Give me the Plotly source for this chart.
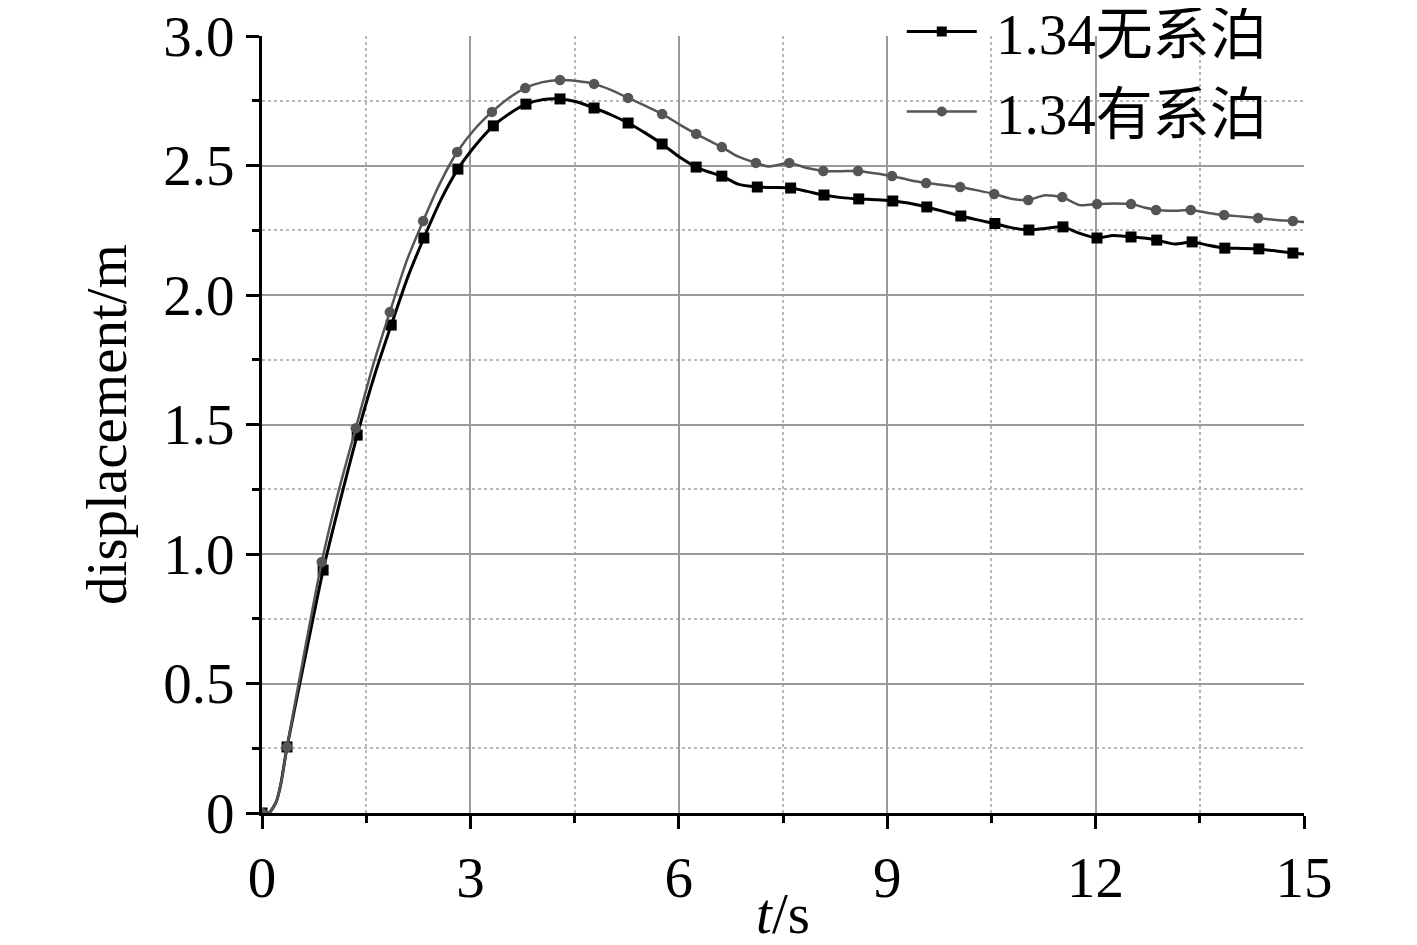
import plotly.graph_objects as go

# ---- data ----
# continuous curves
t_black = [0, 0.10, 0.20, 0.27, 0.36, 0.62, 0.88, 1.12, 1.37, 1.62, 1.86, 2.10, 2.33, 2.58, 2.82, 3.08,
           3.33, 3.56, 3.80, 4.05, 4.29, 4.54, 4.78, 5.03, 5.27, 5.52, 5.76, 6.00, 6.25, 6.42, 6.62, 6.85,
           7.13, 7.35, 7.61, 7.85, 8.09, 8.34, 8.59, 8.85, 9.08, 9.30, 9.57, 9.82, 10.06, 10.30, 10.55,
           10.75, 11.04, 11.30, 11.53, 11.75, 12.02, 12.25, 12.51, 12.70, 12.88, 13.14, 13.39, 13.62,
           13.86, 14.10, 14.35, 14.60, 14.84, 15.0]
v_black = [0, 0.0, 0.04, 0.11, 0.255, 0.60, 0.938, 1.20, 1.459, 1.69, 1.884, 2.07, 2.220, 2.37, 2.486, 2.58,
           2.653, 2.70, 2.737, 2.755, 2.757, 2.745, 2.722, 2.695, 2.664, 2.625, 2.583, 2.535, 2.494, 2.476,
           2.459, 2.428, 2.417, 2.415, 2.413, 2.400, 2.386, 2.376, 2.371, 2.368, 2.363, 2.355, 2.340, 2.322,
           2.305, 2.290, 2.276, 2.262, 2.251, 2.258, 2.263, 2.240, 2.220, 2.230, 2.224, 2.220, 2.212, 2.197,
           2.205, 2.192, 2.181, 2.180, 2.178, 2.170, 2.162, 2.158]

t_gray = [0, 0.10, 0.20, 0.27, 0.36, 0.61, 0.86, 1.10, 1.35, 1.60, 1.84, 2.08, 2.32, 2.56, 2.81, 3.06,
          3.31, 3.55, 3.79, 4.04, 4.29, 4.53, 4.78, 5.02, 5.27, 5.52, 5.76, 6.00, 6.25, 6.42, 6.62, 6.85,
          7.11, 7.30, 7.59, 7.85, 8.08, 8.33, 8.58, 8.82, 9.07, 9.30, 9.56, 9.80, 10.05, 10.30, 10.54,
          10.78, 11.03, 11.27, 11.52, 11.77, 12.02, 12.27, 12.51, 12.70, 12.87, 13.12, 13.37, 13.60,
          13.85, 14.10, 14.34, 14.60, 14.84, 15.0]
v_gray = [0, 0.0, 0.04, 0.11, 0.255, 0.62, 0.969, 1.24, 1.486, 1.73, 1.934, 2.13, 2.286, 2.43, 2.552, 2.64,
          2.707, 2.76, 2.799, 2.822, 2.830, 2.826, 2.815, 2.792, 2.761, 2.730, 2.699, 2.660, 2.622, 2.598,
          2.571, 2.535, 2.510, 2.496, 2.510, 2.490, 2.479, 2.478, 2.479, 2.470, 2.459, 2.445, 2.432, 2.425,
          2.417, 2.404, 2.390, 2.372, 2.367, 2.385, 2.378, 2.347, 2.351, 2.353, 2.351, 2.338, 2.328, 2.325,
          2.328, 2.318, 2.309, 2.303, 2.297, 2.290, 2.286, 2.282]

# marker points
mk_t_black = [0, 0.36, 0.88, 1.37, 1.86, 2.33, 2.82, 3.33, 3.80, 4.29, 4.78, 5.27, 5.76, 6.25, 6.62, 7.13,
              7.61, 8.09, 8.59, 9.08, 9.57, 10.06, 10.55, 11.04, 11.53, 12.02, 12.51, 12.88, 13.39, 13.86,
              14.35, 14.84]
mk_v_black = [0, 0.255, 0.938, 1.459, 1.884, 2.220, 2.486, 2.653, 2.737, 2.757, 2.722, 2.664, 2.583, 2.494,
              2.459, 2.417, 2.413, 2.386, 2.371, 2.363, 2.340, 2.305, 2.276, 2.251, 2.263, 2.220, 2.224, 2.212,
              2.205, 2.181, 2.178, 2.162]
mk_t_gray = [0, 0.36, 0.86, 1.35, 1.84, 2.32, 2.81, 3.31, 3.79, 4.29, 4.78, 5.27, 5.76, 6.25, 6.62, 7.11,
             7.59, 8.08, 8.58, 9.07, 9.56, 10.05, 10.54, 11.03, 11.52, 12.02, 12.51, 12.87, 13.37, 13.85,
             14.34, 14.84]
mk_v_gray = [0, 0.255, 0.969, 1.486, 1.934, 2.286, 2.552, 2.707, 2.799, 2.830, 2.815, 2.761, 2.699, 2.622,
             2.571, 2.510, 2.510, 2.479, 2.479, 2.459, 2.432, 2.417, 2.390, 2.367, 2.378, 2.351, 2.351, 2.328,
             2.328, 2.309, 2.297, 2.286]

names = ["1.34无系泊", "1.34有系泊"]
x_ticks = [0, 3, 6, 9, 12, 15]
y_ticks = [0, 0.5, 1.0, 1.5, 2.0, 2.5, 3.0]
y_ticktext = ["0", "0.5", "1.0", "1.5", "2.0", "2.5", "3.0"]
x_grid = [3, 6, 9, 12]
y_grid = [0.5, 1.0, 1.5, 2.0, 2.5]
x_minor = [1.5, 4.5, 7.5, 10.5, 13.5]
y_minor = [0.25, 0.75, 1.25, 1.75, 2.25, 2.75]

BLACK = "#000000"
GRAY = "#555555"
FONT = "Liberation Serif, 'Times New Roman', 'Noto Sans CJK SC', serif"
FS = 57

fig = go.Figure()

# legend entries
fig.add_trace(go.Scatter(x=[None], y=[None], mode="lines+markers", name="\u00a0" + names[0],
                         legendgroup="a",
                         line=dict(color=BLACK, width=3),
                         marker=dict(symbol="square", size=10, color=BLACK)))
fig.add_trace(go.Scatter(x=[None], y=[None], mode="lines+markers", name="\u00a0" + names[1],
                         legendgroup="b",
                         line=dict(color=GRAY, width=2.5),
                         marker=dict(symbol="circle", size=10, color=GRAY)))

# grid-only overlay axes holder
fig.add_trace(go.Scatter(x=[None], y=[None], xaxis="x2", yaxis="y2", showlegend=False, hoverinfo="skip"))

# black series
fig.add_trace(go.Scatter(x=t_black, y=v_black, mode="lines", showlegend=False, hoverinfo="skip",
                         line=dict(color=BLACK, width=3, shape="spline", smoothing=0.6)))
fig.add_trace(go.Scatter(x=mk_t_black, y=mk_v_black, mode="markers", showlegend=False,
                         marker=dict(symbol="square", size=11, color=BLACK)))
# gray series
fig.add_trace(go.Scatter(x=t_gray, y=v_gray, mode="lines", showlegend=False, hoverinfo="skip",
                         line=dict(color=GRAY, width=2.5, shape="spline", smoothing=0.6)))
fig.add_trace(go.Scatter(x=mk_t_gray, y=mk_v_gray, mode="markers", showlegend=False,
                         marker=dict(symbol="circle", size=10.5, color=GRAY)))

tickfont = dict(family=FONT, size=FS, color="black")

fig.update_layout(
    width=1409, height=937,
    margin=dict(l=254, r=113, t=28, b=132, autoexpand=False),
    paper_bgcolor="white", plot_bgcolor="white",
    font=dict(family=FONT, size=FS, color="black"),
    xaxis=dict(range=[0, 15], tickvals=x_ticks, ticks="outside", ticklen=13, tickwidth=2.5,
               tickcolor="black", showline=True, linewidth=3, linecolor="black",
               showgrid=False, zeroline=False, tickfont=tickfont, ticklabeloverflow="allow",
               minor=dict(ticks="outside", ticklen=7, tickwidth=2.5, tickcolor="black",
                          tickvals=x_minor, showgrid=False),
               title=dict(text="<i>t</i>/s", font=dict(family=FONT, size=FS), standoff=12),
               automargin=False),
    yaxis=dict(range=[0, 3], tickvals=y_ticks, ticktext=y_ticktext, ticks="outside", ticklen=13,
               tickwidth=2.5, tickcolor="black", showline=True, linewidth=3, linecolor="black",
               showgrid=False, zeroline=False, tickfont=tickfont, ticklabeloverflow="allow",
               minor=dict(ticks="outside", ticklen=7, tickwidth=2.5, tickcolor="black",
                          tickvals=y_minor, showgrid=False),
               title=dict(text="displacement/m", font=dict(family=FONT, size=FS), standoff=19),
               automargin=False),
    xaxis2=dict(range=[0, 15], overlaying="x", anchor="y2", tickvals=x_grid, ticks="",
                showticklabels=False, showline=False, zeroline=False,
                showgrid=True, gridcolor="#9a9a9a", gridwidth=1.5,
                minor=dict(tickvals=x_minor, showgrid=True, gridcolor="#b8b8b8",
                           griddash="dot", gridwidth=1.5)),
    yaxis2=dict(range=[0, 3], overlaying="y", anchor="x2", tickvals=y_grid, ticks="",
                showticklabels=False, showline=False, zeroline=False,
                showgrid=True, gridcolor="#9a9a9a", gridwidth=1.5,
                minor=dict(tickvals=y_minor, showgrid=True, gridcolor="#b8b8b8",
                           griddash="dot", gridwidth=1.5)),
    legend=dict(x=0.614, y=1.062, xanchor="left", yanchor="top", bgcolor="rgba(0,0,0,0)",
                font=dict(family=FONT, size=FS), itemwidth=70, traceorder="grouped",
                tracegroupgap=3),
    showlegend=True,
)

fig.write_html("out.html")
